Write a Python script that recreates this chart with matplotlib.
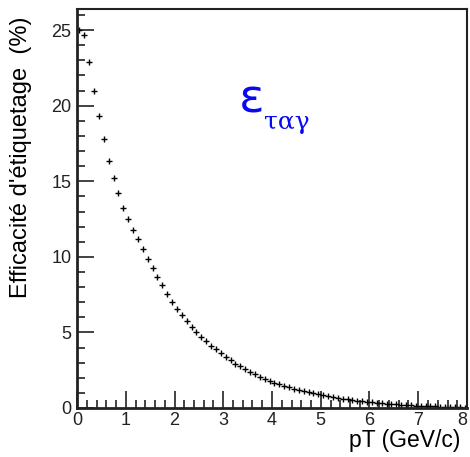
import numpy as np
import matplotlib
matplotlib.use("Agg")
import matplotlib.pyplot as plt
from matplotlib.ticker import MultipleLocator
import matplotlib.transforms as mtransforms

plt.rcParams['font.family'] = ['Liberation Sans', 'DejaVu Sans']

# centres des bins (0.1 GeV/c) et efficacité en %
pt = np.arange(80) * 0.1 + 0.05
eff = [25.0, 24.7, 22.9, 21.0, 19.3, 17.8, 16.35, 15.2, 14.2, 13.25,
       12.5, 11.8, 11.16, 10.5, 9.85, 9.28, 8.68, 8.11, 7.54, 7.03,
       6.55, 6.15, 5.73, 5.38, 5.03, 4.72, 4.41, 4.12, 3.88, 3.64,
       3.39, 3.15, 2.91, 2.75, 2.55, 2.38, 2.22, 2.07, 1.93, 1.80,
       1.68, 1.57, 1.46, 1.37, 1.28, 1.19, 1.11, 1.04, 0.97, 0.90,
       0.84, 0.78, 0.72, 0.67, 0.62, 0.57, 0.53, 0.49, 0.45, 0.42,
       0.38, 0.35, 0.32, 0.29, 0.27, 0.24, 0.22, 0.20, 0.18, 0.16,
       0.14, 0.12, 0.11, 0.10, 0.08, 0.07, 0.06, 0.05, 0.04, 0.03]

xticks = [0, 1, 2, 3, 4, 5, 6, 7, 8]
yticks = [0, 5, 10, 15, 20, 25]

fig = plt.figure(figsize=(4.7, 4.57), dpi=100)
ax = fig.add_axes([77/470, 49/457, 390/470, 399/457])

ax.plot(pt, eff, linestyle='none', marker='+', color='black',
        markersize=4.5, markeredgewidth=1.0)

ax.set_xlim(0, 8)
ax.set_ylim(0, 26.4)
ax.set_xticks(xticks)
ax.set_yticks(yticks)
ax.xaxis.set_minor_locator(MultipleLocator(0.2))
ax.yaxis.set_minor_locator(MultipleLocator(1))
ax.tick_params(which='both', direction='in', color='#222222', width=1.2)
ax.tick_params(which='major', length=12, labelsize=13, labelcolor='#222222')
ax.tick_params(which='minor', length=6)
ax.tick_params(axis='x', pad=3)
ax.tick_params(axis='y', pad=4)

for s in ax.spines.values():
    s.set_linewidth(1.5)
    s.set_color('#222222')
ax.spines['left'].set_linewidth(2)
ax.spines['bottom'].set_linewidth(2)

# le "8" est poussé vers la gauche pour rester dans l'image
lab8 = ax.get_xticklabels()[-1]
lab8.set_transform(lab8.get_transform() +
                   mtransforms.ScaledTranslation(-5/100, 0, fig.dpi_scale_trans))

fig.text(460/470, 1 - 441/457, 'pT (GeV/c)', fontsize=16.5, ha='right', va='center')
fig.text(21/470, 1 - 17/457, "Efficacité d'étiquetage  (%)", fontsize=17,
         rotation=90, ha='center', va='top')

ax.text(0.415, 0.74, 'ε', transform=ax.transAxes, fontsize=34, color='#0a0af0',
        family='DejaVu Sans', ha='left', va='baseline')
ax.text(0.48, 0.70, 'ταγ', transform=ax.transAxes, fontsize=18, color='#0a0af0',
        family=['DejaVu Serif'], ha='left', va='baseline')

fig.savefig('out.png', dpi=100)
